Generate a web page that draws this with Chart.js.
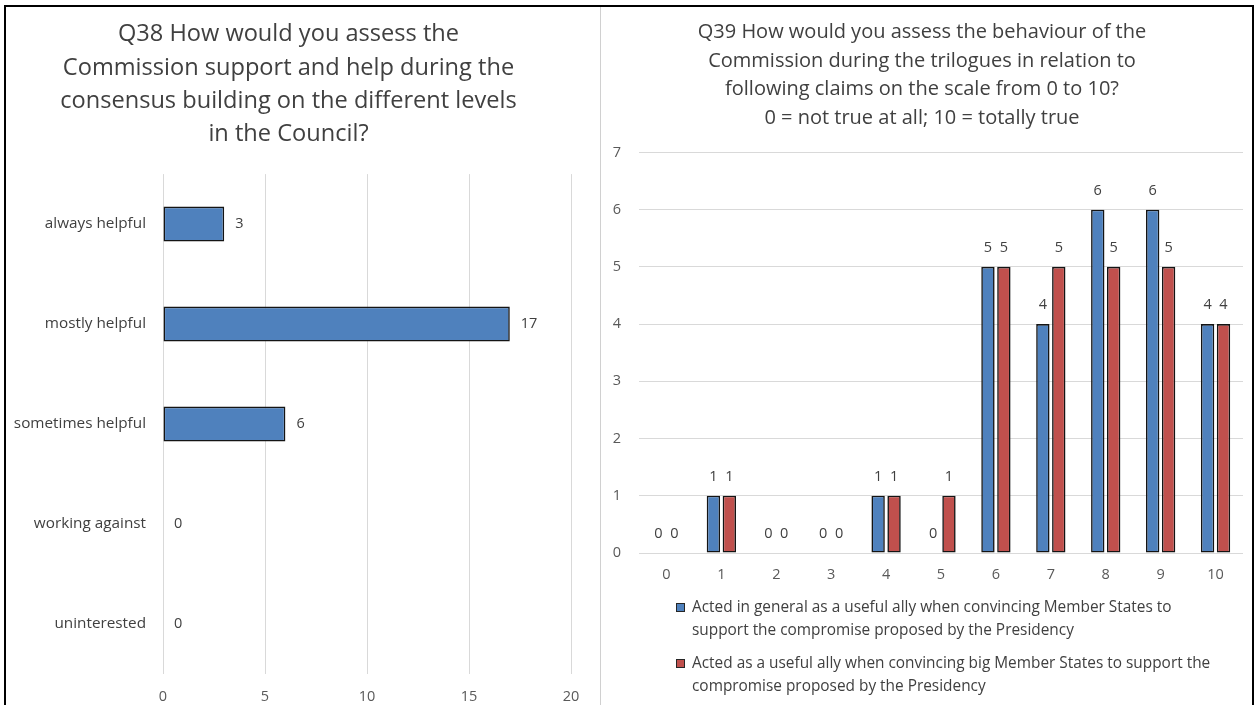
<!DOCTYPE html>
<html lang="en">
<head>
<meta charset="UTF-8">
<title>Q38 / Q39 Commission assessment</title>
<script src="https://cdn.jsdelivr.net/npm/chart.js"></script>
<style>
  body { margin: 0; background: #fff; font-family: "Open Sans", sans-serif; }
  #frame {
    position: absolute; left: 4px; top: 5px; width: 1250px; height: 740px;
    border: 2px solid #000; box-sizing: border-box;
  }
  #divider { position: absolute; left: 600px; top: 7px; width: 1px; height: 700px; background: #d0d0d0; }
  .panel { position: absolute; top: 8px; }
  #left { left: 6px; }
  #right { left: 601px; }
  #q39Legend {
    position: absolute; left: 676px; top: 596px;
    font-size: 15.4px; line-height: 22.5px; color: #404040;
  }
  #q39Legend .item { position: relative; padding-left: 16px; margin-bottom: 11px; white-space: nowrap; }
  #q39Legend .box {
    position: absolute; left: 0; top: 7px; width: 7px; height: 7px;
    border: 1px solid #262626;
  }
</style>
</head>
<body>
<div id="frame"></div>
<div id="divider"></div>
<div class="panel" id="left"><canvas id="q38" width="594" height="697"></canvas></div>
<div class="panel" id="right"><canvas id="q39" width="651" height="697"></canvas></div>
<div id="q39Legend"></div>

<script>
// Q38 - horizontal bars
const q38Categories = ['always helpful', 'mostly helpful', 'sometimes helpful', 'working against', 'uninterested'];
const q38Values = [3, 17, 6, 0, 0];
const q38Max = 20;
const q38Step = 5;

// Q39 - grouped bars on the 0..10 scale
const q39Scale = ['0', '1', '2', '3', '4', '5', '6', '7', '8', '9', '10'];
const q39General = [0, 1, 0, 0, 1, 0, 5, 4, 6, 6, 4];
const q39Big = [0, 1, 0, 0, 1, 1, 5, 5, 5, 5, 4];
const q39Max = 7;
const q39Series = [
    ['Acted in general as a useful ally when convincing Member States to', 'support the compromise proposed by the Presidency'],
    ['Acted as a useful ally when convincing big Member States to support the', 'compromise proposed by the Presidency']
];

const FONT = '"Open Sans", sans-serif';
const BLUE = '#4F81BD';
const RED = '#C0504D';
const GRID = '#d9d9d9';
const TEXT = '#404040';
const TICK = '#595959';

// write the value next to / above every bar
const valueLabels = {
    id: 'valueLabels',
    afterDatasetsDraw(chart, args, opts) {
        const ctx = chart.ctx;
        ctx.save();
        ctx.font = opts.size + 'px ' + FONT;
        ctx.fillStyle = opts.color;
        ctx.textBaseline = 'middle';
        const horizontal = chart.options.indexAxis === 'y';
        chart.data.datasets.forEach((ds, i) => {
            chart.getDatasetMeta(i).data.forEach((bar, j) => {
                const v = ds.data[j];
                if (horizontal) {
                    ctx.textAlign = 'left';
                    ctx.fillText(v, bar.x + opts.offset, bar.y);
                } else {
                    ctx.textAlign = 'center';
                    ctx.fillText(v, bar.x, bar.y - opts.offset);
                }
            });
        });
        ctx.restore();
    }
};

// no outline on empty bars
const edge = ctx => (ctx.raw === 0 ? 0 : 1.6);

new Chart(document.getElementById('q38'), {
    type: 'bar',
    data: {
        labels: q38Categories,
        datasets: [{
            data: q38Values,
            backgroundColor: BLUE,
            borderColor: '#141414',
            borderWidth: edge,
            borderSkipped: false,
            categoryPercentage: 1,
            barPercentage: 0.35
        }]
    },
    plugins: [valueLabels],
    options: {
        responsive: false,
        animation: false,
        indexAxis: 'y',
        layout: { padding: { left: 0, right: 29, top: 0, bottom: 0 } },
        scales: {
            x: {
                min: 0, max: q38Max,
                ticks: { stepSize: q38Step, color: TICK, padding: 14, font: { family: FONT, size: 14.5 } },
                grid: { color: GRID, drawTicks: false },
                border: { display: false },
                afterFit: s => { s.height = 31; }
            },
            y: {
                ticks: { color: TEXT, padding: 17, font: { family: FONT, size: 15.3 } },
                grid: { display: false, drawTicks: false },
                border: { display: false },
                afterFit: s => { s.width = 157; }
            }
        },
        plugins: {
            legend: { display: false },
            tooltip: { enabled: false },
            title: {
                display: true,
                text: ['Q38 How would you assess the', 'Commission support and help during the',
                       'consensus building on the different levels', 'in the Council?'],
                color: TEXT,
                font: { family: FONT, size: 23.6, weight: 'normal', lineHeight: 1.41 },
                padding: { top: 10, bottom: 23 }
            },
            valueLabels: { size: 14.5, color: TEXT, offset: 11 }
        }
    }
});

const q39Chart = new Chart(document.getElementById('q39'), {
    type: 'bar',
    data: {
        labels: q39Scale,
        datasets: [{
            label: q39Series[0].join(' '),
            data: q39General,
            backgroundColor: BLUE,
            borderColor: '#141414',
            borderWidth: edge,
            borderSkipped: false,
            categoryPercentage: 0.58,
            barPercentage: 0.84
        }, {
            label: q39Series[1].join(' '),
            data: q39Big,
            backgroundColor: RED,
            borderColor: '#141414',
            borderWidth: edge,
            borderSkipped: false,
            categoryPercentage: 0.58,
            barPercentage: 0.84
        }]
    },
    plugins: [valueLabels],
    options: {
        responsive: false,
        animation: false,
        layout: { padding: { left: 0, right: 9, top: 0, bottom: 112 } },
        scales: {
            x: {
                ticks: { color: TICK, padding: 13, font: { family: FONT, size: 14.5 } },
                grid: { display: false, drawTicks: false },
                border: { display: false },
                afterFit: s => { s.height = 40; }
            },
            y: {
                min: 0, max: q39Max,
                ticks: { stepSize: 1, color: TICK, padding: 18, font: { family: FONT, size: 14.5 } },
                grid: { color: GRID, drawTicks: false },
                border: { display: false },
                afterFit: s => { s.width = 38; }
            }
        },
        plugins: {
            legend: { display: false },
            tooltip: { enabled: false },
            title: {
                display: true,
                text: ['Q39 How would you assess the behaviour of the', 'Commission during the trilogues in relation to',
                       'following claims on the scale from 0 to 10?', '0 = not true at all; 10 = totally true'],
                color: TEXT,
                font: { family: FONT, size: 20, weight: 'normal', lineHeight: 1.43 },
                padding: { top: 10, bottom: 20 }
            },
            valueLabels: { size: 14.5, color: TEXT, offset: 19 }
        }
    }
});

// legend below the Q39 plot, wrapped on two lines per series
const legendBox = document.getElementById('q39Legend');
q39Chart.data.datasets.forEach((ds, i) => {
    const item = document.createElement('div');
    item.className = 'item';
    const box = document.createElement('span');
    box.className = 'box';
    box.style.background = ds.backgroundColor;
    item.appendChild(box);
    q39Series[i].forEach((line, k) => {
        if (k) item.appendChild(document.createElement('br'));
        item.appendChild(document.createTextNode(line));
    });
    legendBox.appendChild(item);
});
</script>
</body>
</html>
